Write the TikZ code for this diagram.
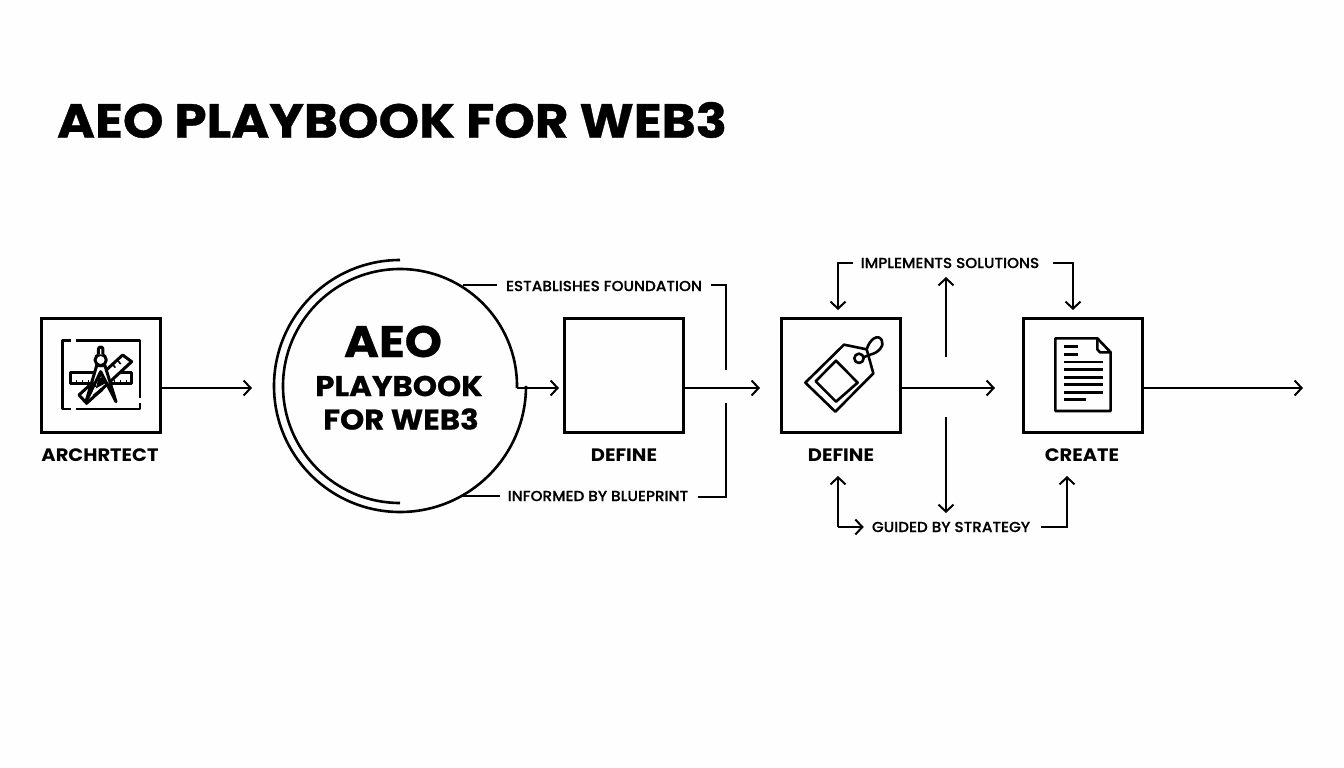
\documentclass[tikz,border=0pt]{standalone}
\usepackage{fontspec}
\setmainfont{Poppins}
\newfontfamily\heavyf{Poppins}[UprightFont=* Bold,FakeBold=0.7,FakeStretch=1.08]
\newfontfamily\labelf{Poppins}[UprightFont=* Bold,FakeStretch=1.08]
\newfontfamily\linkf{Poppins}[UprightFont=* Medium,FakeBold=0.5,FakeStretch=1.05]
\usetikzlibrary{arrows.meta,calc}
\tikzset{
  boxn/.style={draw=black,line width=3pt,minimum width=119pt,minimum height=114.5pt,inner sep=0pt},
  link/.style={draw=black,line width=2pt},
  arr/.style={link,-{Straight Barb[length=7pt,width=15pt,line width=2pt]}},
  captxt/.style={font=\labelf\fontsize{18}{18}\selectfont,inner sep=0pt,text=black},
  lbl/.style={font=\linkf\fontsize{14.5}{15}\selectfont,inner sep=0pt,text=black},
  ico/.style={draw=black,line width=2.6pt,line join=round,line cap=round},
  ring/.style={draw=black,line width=2.6pt},
}
\begin{document}
\begin{tikzpicture}[x=1pt,y=-1pt]
\useasboundingbox (0,0) rectangle (1344,768);
\fill[white!99.5!black] (0,0) rectangle (1344,768);
\coordinate (rail) at (0,388);
\node[font=\heavyf\fontsize{47.8}{48}\selectfont,inner sep=0pt] (title) at (392,120) {AEO PLAYBOOK FOR WEB3};
% boxes
\node[boxn] (arch) at (101,375.5) {};
\node[boxn] (def1) at (623.7,375.5) {};
\node[boxn] (def2) at (841,375.5) {};
\node[boxn] (crea) at (1082.5,375.5) {};
\node[captxt] (tarch) at (100,455.5) {ARCHRTECT};
\node[captxt] (tdef1) at (624,455.5) {DEFINE};
\node[captxt] (tdef2) at (841,455.5) {DEFINE};
\node[captxt] (tcrea) at (1082,455.5) {CREATE};
% circle: two concentric open rings
\coordinate (cout) at (517,388);
\path[ring] (cout) -- (517,386) arc (0:-270:117);
\path[ring] (400,260) arc (270:0:126) -- (526,388);
\node[inner sep=0pt,font=\heavyf\fontsize{44}{44}\selectfont] (c1) at (393,341.5) {AEO};
\node[inner sep=0pt,font=\heavyf\fontsize{28.5}{29}\selectfont] (c2) at (399,386) {PLAYBOOK};
\node[inner sep=0pt,font=\heavyf\fontsize{28.5}{29}\selectfont] (c3) at (401,419) {FOR WEB3};
% labels
\node[lbl] (est) at (604,286) {ESTABLISHES FOUNDATION};
\node[lbl] (inf) at (598,496) {INFORMED BY BLUEPRINT};
\node[lbl] (imp) at (950,263) {IMPLEMENTS SOLUTIONS};
\node[lbl] (gui) at (951,527) {GUIDED BY STRATEGY};
% main arrows
\coordinate (tip1) at (252,388);
\coordinate (tip2) at (559,388);
\coordinate (tip3) at (760,388);
\coordinate (tip4) at (995,388);
\coordinate (tip5) at (1303,388);
\draw[arr] (arch.east |- rail) -- (tip1);
\draw[arr] (cout) -- (tip2);
\draw[arr] (def1.east |- rail) -- (tip3);
\draw[arr] (def2.east |- rail) -- (tip4);
\draw[arr] (crea.east |- rail) -- (tip5);
% bracket lines around Define
\coordinate (ca) at (463,285); \coordinate (cb) at (463,496);
\draw[link] (ca) -- ([xshift=-9pt]est.west |- ca);
\draw[link] (cb) -- ([xshift=-8pt]inf.west |- cb);
\coordinate (br1) at (726,285); \coordinate (br1e) at (726,370);
\coordinate (br2) at (726,497); \coordinate (br2e) at (726,403);
\draw[link] ([xshift=9pt]est.east |- br1) -- (br1) -- (br1e);
\draw[link] ([xshift=10pt]inf.east |- br2) -- (br2) -- (br2e);
% top arrows
\coordinate (tl) at (838,263); \coordinate (tr) at (1073,263);
\coordinate (tlt) at (838,310); \coordinate (trt) at (1073,310);
\draw[arr] ([xshift=-8pt]imp.west |- tl) -- (tl) -- (tlt);
\draw[arr] ([xshift=14pt]imp.east |- tr) -- (tr) -- (trt);
\coordinate (m1a) at (946,357); \coordinate (m1b) at (946,277);
\coordinate (m2a) at (946,417); \coordinate (m2b) at (946,513);
\draw[arr] (m1a) -- (m1b);
\draw[arr] (m2a) -- (m2b);
% bottom arrows
\coordinate (bl) at (838,527); \coordinate (blt) at (838,476);
\coordinate (br) at (1067,527); \coordinate (brt) at (1067,476);
\draw[arr] (bl) -- (blt);
\draw[arr] (bl) -- ([xshift=-8pt]gui.west |- bl);
\draw[arr] ([xshift=11pt]gui.east |- br) -- (br) -- (brt);
% architect icon
\begin{scope}[shift={(30,300)},x=0.3333pt,y=-0.3333pt]
 \begin{scope}[ico,line cap=butt]
 \draw (122,122) -- (97,122) -- (97,327) -- (124,327);
 \draw (138,327) -- (330,327) -- (330,308);
 \draw (330,293) -- (330,122) -- (138,122);
 \draw[line width=3pt] (123,219) -- (123,252) -- (305,252) -- (305,219) -- cycle;
 \draw[line width=1.6pt] (140,252)--(140,240) (158,252)--(158,240) (176,252)--(176,240) (254,252)--(254,240) (272,252)--(272,240) (290,252)--(290,240);
 \draw[fill=white,line width=3pt] (147,285) -- (170,310) -- (305,185) -- (278,165) -- cycle;
 \draw[line width=1.6pt] (262,180)--(272,192) (248,193)--(256,203) (190,250)--(198,260) (176,263)--(184,272);
 \draw[fill=white,line width=3pt] (200,197) -- (168,305) -- (212,215) -- (258,305) -- (225,197) -- cycle;
 \fill (205,235) -- (222,230) -- (226,250) -- (198,265) -- cycle;
 \fill (188,285) -- (212,265) -- (220,272) -- (194,292) -- cycle;
 \draw[fill=white,line width=3pt] (212,180) circle (17);
 \draw[fill=white,line width=3pt] (205,163) -- (205,148) arc (180:360:7) -- (219,163);
 \end{scope}
\end{scope}
% tag icon
\begin{scope}[shift={(770,310)},x=0.3333pt,y=-0.3333pt]
 \draw[ico] (106,218) -- (222,104) -- (290,118) -- (310,190) -- (196,305) -- cycle;
 \draw[ico] (198,152) -- (263,218) -- (198,275) -- (137,214) -- cycle;
 \draw[ico] (267,145) circle (14);
 \draw[ico] (280,142) -- (300,134) .. controls (325,130) and (345,105) .. (335,90) .. controls (325,72) and (300,85) .. (290,118);
\end{scope}
% document icon
\begin{scope}[shift={(1010,310)},x=0.3333pt,y=-0.3333pt]
 \draw[ico] (136,85) -- (262,85) -- (302,127) -- (302,303) -- (136,303) -- cycle;
 \draw[ico] (262,85) -- (262,118) -- (270,127) -- (302,127);
 \draw[ico,line cap=butt] (162,110) -- (205,110) (162,133) -- (205,133)
  (162,156) -- (280,156) (162,179) -- (280,179) (162,202) -- (280,202)
  (162,224) -- (280,224) (162,247) -- (280,247) (162,269) -- (228,269);
\end{scope}
\end{tikzpicture}
\end{document}
